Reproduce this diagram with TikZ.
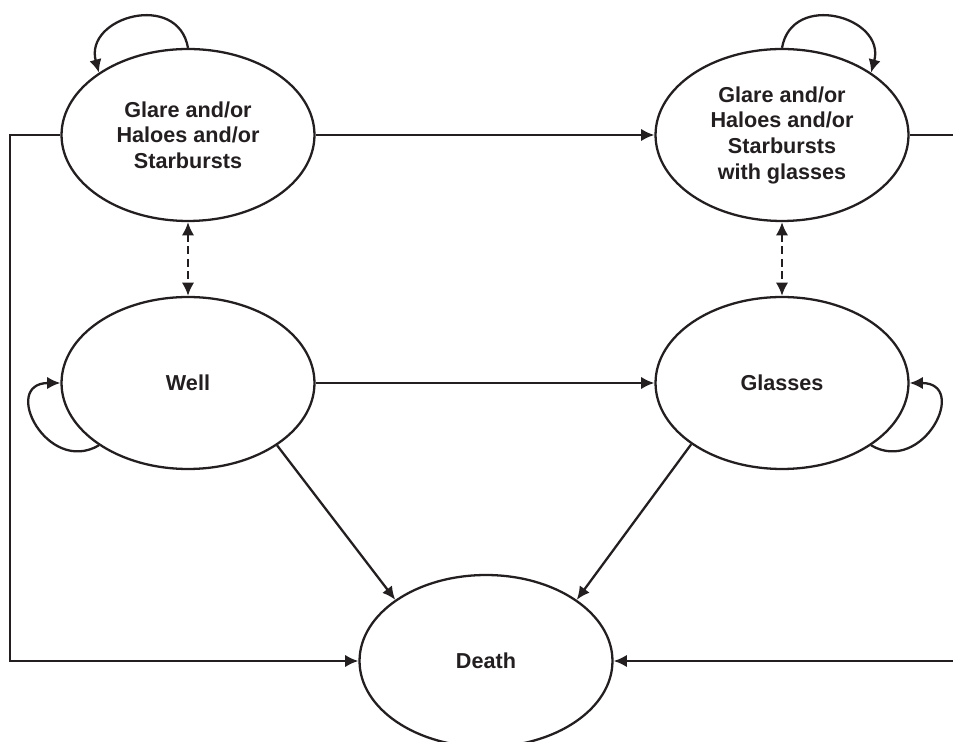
\documentclass[tikz,border=0pt]{standalone}
\usepackage{fontspec}
\setmainfont{Liberation Sans}
\usetikzlibrary{shapes,arrows.meta}
\definecolor{ink}{HTML}{231F20}
\tikzset{
	state/.style    = {draw, ellipse, line width=1.3pt, inner sep=0pt,
		minimum width = 5.06cm, minimum height = 3.44cm, align=center,
		font=\fontsize{12.3}{14.6}\selectfont\bfseries},
	link/.style     = {line width=1.3pt, -{Latex[length=7.5pt,width=7pt]}},
	both/.style     = {line width=1.3pt, {Latex[length=7.5pt,width=7pt]}-{Latex[length=7.5pt,width=7pt]},
		dash pattern = on 4.5pt off 2.5pt},
	corner/.style   = {coordinate}
}

\begin{document}
\begin{tikzpicture}[x=0.02cm, y=0.02cm, draw=ink, text=ink]
	\path[use as bounding box, clip] (0,0) rectangle (953,-742);
	% states
	\draw
	node at (188,-135)[state] (ghs) {Glare and/or\\Haloes and/or\\Starbursts}
	node at (782,-135)[state] (ghsg) {Glare and/or\\Haloes and/or\\Starbursts\\with glasses}
	node at (188,-383)[state] (well) {Well}
	node at (782,-383)[state] (glas) {Glasses}
	node at (486,-661)[state] (death) {Death}
	;
	\coordinate[corner] (lc) at (10,-661);
	\coordinate[corner] (rc) at (965,-661);
	
	% transitions
	\draw[link] (ghs) -- (ghsg);
	\draw[link] (well) -- (glas);
	\draw[both] (ghs) -- (well);
	\draw[both] (ghsg) -- (glas);
	\draw[link] (well.325) -- (death.146);
	\draw[link] (glas.214) -- (death.34);
	\draw[link] (ghs.west) -| (lc) -- (death.west);
	\draw[link] (ghsg.east) -| (rc) -- (death.east);
	
	% self loops
	\draw[link] (ghs.north) to[out=100, in=105, looseness=1.6] (ghs.145);
	\draw[link] (ghsg.north) to[out=80, in=75, looseness=1.6] (ghsg.35);
	\draw[link] (well.215) to[out=210, in=180, looseness=2.1] (well.west);
	\draw[link] (glas.325) to[out=330, in=0, looseness=2.1] (glas.east);
\end{tikzpicture}
\end{document}
